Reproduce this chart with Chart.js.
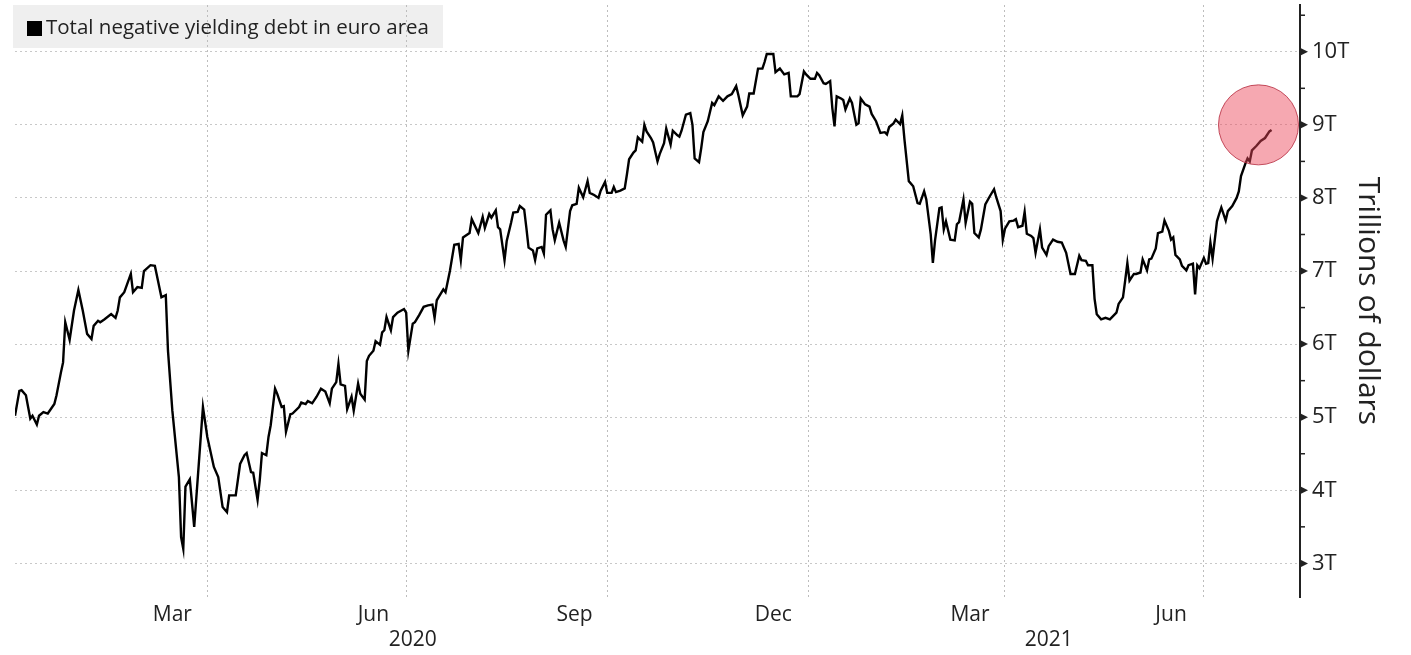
<!DOCTYPE html>
<html>
<head>
<meta charset="utf-8">
<title>Total negative yielding debt in euro area</title>
<script src="https://cdn.jsdelivr.net/npm/chart.js@4.4.1/dist/chart.umd.min.js"></script>
<style>
  html, body { margin: 0; padding: 0; background: #fff; }
  #wrap { width: 1411px; height: 655px; position: relative; }
</style>
</head>
<body>
<div id="wrap"><canvas id="chart"></canvas></div>
<script>
// negative yielding debt, euro area
// x is days counted from 1 Jan 2020, values in trillions of dollars

const days = [
  2, 4, 5, 7, 8, 9, 10, 12, 13, 15,
  17, 20, 21, 23, 24, 25, 27, 29, 31, 33,
  35, 37, 38, 40, 41, 43, 46, 48, 49, 50,
  52, 55, 56, 58, 60, 61, 64, 66, 67, 69,
  71, 72, 74, 77, 78, 79, 80, 82, 84, 86,
  88, 90, 93, 95, 97, 99, 100, 103, 105, 107,
  108, 110, 111, 113, 114, 115, 117, 118, 119, 121,
  122, 124, 125, 126, 128, 129, 132, 133, 135, 136,
  138, 140, 142, 144, 146, 147, 149, 150, 151, 153,
  154, 156, 157, 159, 160, 162, 163, 164, 166, 167,
  169, 170, 171, 172, 174, 175, 177, 180, 181, 182,
  184, 185, 187, 189, 191, 193, 194, 195, 196, 198,
  199, 201, 203, 205, 206, 207, 210, 211, 214, 216,
  217, 219, 220, 222, 223, 224, 226, 227, 229, 230,
  232, 233, 235, 236, 237, 239, 240, 241, 243, 244,
  245, 247, 248, 249, 251, 253, 254, 256, 257, 259,
  260, 262, 264, 265, 267, 269, 270, 272, 273, 275,
  276, 277, 279, 281, 282, 283, 285, 286, 287, 289,
  290, 291, 293, 294, 296, 297, 299, 300, 302, 303,
  305, 306, 307, 309, 311, 312, 313, 315, 316, 317,
  319, 321, 322, 324, 326, 328, 330, 332, 333, 335,
  337, 338, 340, 342, 344, 345, 346, 349, 350, 352,
  354, 356, 357, 360, 361, 363, 364, 366, 368, 369,
  370, 372, 373, 375, 376, 377, 378, 380, 381, 382,
  384, 385, 387, 388, 389, 391, 393, 394, 396, 398,
  400, 401, 402, 404, 405, 407, 408, 409, 411, 413,
  415, 416, 418, 419, 421, 422, 423, 425, 426, 427,
  428, 430, 432, 433, 434, 436, 437, 439, 440, 441,
  443, 444, 446, 448, 450, 451, 453, 454, 455, 457,
  459, 460, 461, 463, 464, 465, 467, 468, 469, 471,
  472, 474, 475, 477, 479, 481, 483, 485, 487, 489,
  490, 492, 493, 495, 496, 497, 499, 501, 503, 504,
  506, 507, 509, 510, 511, 512, 514, 515, 517, 518,
  520, 521, 522, 524, 525, 527, 528, 530, 531, 532,
  533, 535, 536, 538, 539, 541, 542, 543, 544, 546,
  547, 548, 549, 550, 552, 553, 554, 556, 557, 559,
  561, 562, 563, 565, 566, 567, 568, 570, 572, 574,
  576, 577
];

const debt = [
  5.02, 5.36, 5.37, 5.30, 5.14, 4.98, 5.02, 4.90, 5.02, 5.07,
  5.05, 5.18, 5.30, 5.61, 5.75, 6.30, 6.06, 6.46, 6.74, 6.46,
  6.14, 6.07, 6.25, 6.32, 6.30, 6.34, 6.41, 6.36, 6.46, 6.64,
  6.71, 6.96, 6.71, 6.78, 6.77, 7.00, 7.08, 7.07, 6.93, 6.64,
  6.67, 5.91, 5.09, 4.18, 3.36, 3.20, 4.05, 4.15, 3.50, 4.32,
  5.14, 4.73, 4.32, 4.18, 3.77, 3.70, 3.93, 3.93, 4.36, 4.48,
  4.51, 4.25, 4.24, 3.87, 4.14, 4.51, 4.48, 4.73, 4.89, 5.39,
  5.32, 5.14, 5.15, 4.80, 5.04, 5.05, 5.14, 5.20, 5.18, 5.22,
  5.19, 5.28, 5.39, 5.35, 5.19, 5.39, 5.48, 5.73, 5.45, 5.43,
  5.11, 5.28, 5.09, 5.46, 5.32, 5.24, 5.77, 5.84, 5.91, 6.04,
  5.99, 6.16, 6.19, 6.37, 6.19, 6.37, 6.43, 6.48, 6.43, 5.91,
  6.28, 6.30, 6.40, 6.51, 6.53, 6.54, 6.36, 6.60, 6.65, 6.75,
  6.71, 7.00, 7.36, 7.37, 7.15, 7.46, 7.52, 7.71, 7.52, 7.74,
  7.59, 7.78, 7.73, 7.83, 7.60, 7.57, 7.15, 7.41, 7.66, 7.80,
  7.81, 7.89, 7.84, 7.59, 7.32, 7.28, 7.15, 7.31, 7.33, 7.24,
  7.77, 7.83, 7.57, 7.42, 7.66, 7.42, 7.33, 7.82, 7.90, 7.92,
  8.14, 8.01, 8.23, 8.07, 8.04, 8.00, 8.10, 8.22, 8.07, 8.07,
  8.15, 8.08, 8.10, 8.13, 8.32, 8.53, 8.62, 8.65, 8.83, 8.77,
  9.00, 8.91, 8.82, 8.76, 8.50, 8.60, 8.75, 8.95, 8.73, 8.92,
  8.86, 8.84, 8.92, 9.14, 9.16, 9.00, 8.54, 8.49, 8.68, 8.90,
  9.05, 9.30, 9.27, 9.39, 9.33, 9.39, 9.42, 9.53, 9.41, 9.13,
  9.25, 9.43, 9.43, 9.77, 9.77, 9.86, 9.97, 9.97, 9.72, 9.77,
  9.69, 9.71, 9.39, 9.39, 9.42, 9.73, 9.69, 9.63, 9.63, 9.71,
  9.68, 9.57, 9.56, 9.60, 9.23, 8.98, 9.39, 9.36, 9.34, 9.21,
  9.36, 9.30, 9.00, 9.02, 9.36, 9.28, 9.25, 9.15, 9.05, 8.89,
  8.90, 8.87, 8.97, 9.02, 9.07, 9.01, 9.13, 8.80, 8.23, 8.16,
  7.93, 7.92, 8.09, 7.98, 7.51, 7.11, 7.42, 7.86, 7.87, 7.57,
  7.68, 7.43, 7.42, 7.64, 7.67, 7.98, 7.66, 7.95, 7.92, 7.52,
  7.46, 7.57, 7.91, 8.02, 8.12, 8.01, 7.82, 7.43, 7.58, 7.68,
  7.69, 7.71, 7.60, 7.62, 7.81, 7.51, 7.48, 7.45, 7.25, 7.57,
  7.32, 7.22, 7.34, 7.43, 7.40, 7.39, 7.25, 6.96, 6.96, 7.21,
  7.15, 7.14, 7.08, 7.08, 6.62, 6.41, 6.34, 6.36, 6.34, 6.37,
  6.43, 6.55, 6.64, 6.87, 7.11, 6.87, 6.96, 6.96, 6.98, 7.16,
  7.01, 7.16, 7.17, 7.31, 7.52, 7.54, 7.69, 7.55, 7.43, 7.46,
  7.22, 7.16, 7.07, 7.01, 7.08, 7.10, 6.68, 7.08, 7.04, 7.18,
  7.10, 7.11, 7.39, 7.17, 7.68, 7.78, 7.87, 7.69, 7.82, 7.89,
  8.00, 8.09, 8.30, 8.47, 8.54, 8.50, 8.65, 8.71, 8.78, 8.82,
  8.91, 8.93
];

// x axis: gridlines on quarter ends, month names mid-month, years below
const quarterEndDays = [90, 181, 273, 365, 455, 546];
const monthTickDays = [74, 166, 258, 349, 439, 531];
const monthTickLabels = ["Mar", "Jun", "Sep", "Dec", "Mar", "Jun"];
const yearTickDays = [184, 475];
const yearTickLabels = ["2020", "2021"];

// y axis, whole trillions get a label, halves just a small mark
const yTickValues = [3, 3.5, 4, 4.5, 5, 5.5, 6, 6.5, 7, 7.5, 8, 8.5, 9, 9.5, 10, 10.5];

// the red circle on the latest readings
const circleDay = [571];
const circleValue = [9.0];

const seriesLabel = "Total negative yielding debt in euro area";
const yTitle = "Trillions of dollars";

Chart.defaults.font.family = "'Open Sans', sans-serif";
Chart.defaults.color = "#222";

// grey legend box in the top left corner
const legendBox = {
  id: "legendBox",
  beforeDraw(chart) {
    const ctx = chart.ctx;
    const area = chart.chartArea;
    ctx.save();
    ctx.font = "20.5px 'Open Sans'";
    const tw = ctx.measureText(seriesLabel).width;
    const x0 = area.left - 2;
    const y0 = area.top;
    ctx.fillStyle = "#efefef";
    ctx.fillRect(x0, y0, tw + 47, 43);
    ctx.fillStyle = "#000";
    ctx.fillRect(x0 + 14, y0 + 16, 15, 15);
    ctx.fillStyle = "#222";
    ctx.textBaseline = "middle";
    ctx.fillText(seriesLabel, x0 + 33, y0 + 23);
    ctx.restore();
  }
};

// little arrow ticks on the right axis
const yTickMarks = {
  id: "yTickMarks",
  afterDraw(chart) {
    const ys = chart.scales.y;
    const ctx = chart.ctx;
    const x = chart.chartArea.right;
    ctx.save();
    ctx.fillStyle = "#222";
    ctx.strokeStyle = "#222";
    ctx.lineWidth = 1.5;
    for (const t of ys.ticks) {
      const py = ys.getPixelForValue(t.value);
      if (Number.isInteger(t.value)) {
        ctx.beginPath();
        ctx.moveTo(x, py - 4);
        ctx.lineTo(x + 8, py);
        ctx.lineTo(x, py + 4);
        ctx.closePath();
        ctx.fill();
      } else {
        ctx.beginPath();
        ctx.moveTo(x, py);
        ctx.lineTo(x + 5, py);
        ctx.stroke();
      }
    }
    ctx.restore();
  }
};

function xLabel(v) {
  let i = monthTickDays.indexOf(v);
  if (i >= 0) return monthTickLabels[i];
  i = yearTickDays.indexOf(v);
  if (i >= 0) return ["", yearTickLabels[i]];
  return "";
}

// stop the scales from reserving room for half labels at the edges
function noEdgePadding(scale) {
  scale.paddingTop = 0;
  scale.paddingBottom = 0;
  scale.paddingLeft = 0;
  scale.paddingRight = 0;
}

const config = {
  type: "line",
  data: {
    datasets: [
      {
        type: "scatter",
        label: "highlight",
        data: circleDay.map((d, i) => ({ x: d, y: circleValue[i] })),
        pointRadius: 40,
        pointHoverRadius: 40,
        pointBackgroundColor: "rgba(235, 70, 90, 0.47)",
        pointBorderColor: "rgba(180, 40, 60, 0.8)",
        pointBorderWidth: 1,
        clip: false,
        order: 0
      },
      {
        label: seriesLabel,
        data: days.map((d, i) => ({ x: d, y: debt[i] })),
        borderColor: "#000",
        borderWidth: 2.4,
        pointRadius: 0,
        tension: 0,
        fill: false,
        order: 1
      }
    ]
  },
  options: {
    responsive: true,
    maintainAspectRatio: false,
    animation: false,
    events: [],
    layout: { autoPadding: false, padding: { left: 15, top: 5, right: 21, bottom: 0 } },
    plugins: {
      legend: { display: false },
      tooltip: { enabled: false }
    },
    scales: {
      x: {
        type: "linear",
        min: 2,
        max: 590,
        bounds: "data",
        afterBuildTicks(scale) {
          scale.ticks = [...quarterEndDays, ...monthTickDays, ...yearTickDays]
            .sort((a, b) => a - b)
            .map(v => ({ value: v }));
        },
        afterFit(scale) {
          scale.height = 58;
          noEdgePadding(scale);
        },
        grid: {
          color: (c) => (c.tick && quarterEndDays.includes(c.tick.value)) ? "#bdbdbd" : "rgba(0,0,0,0)",
          drawTicks: false,
          lineWidth: 1
        },
        border: { display: false, dash: [2, 3] },
        ticks: {
          autoSkip: false,
          maxRotation: 0,
          minRotation: 0,
          padding: 5,
          color: "#222",
          font: { size: 21 },
          callback: xLabel
        }
      },
      y: {
        type: "linear",
        position: "right",
        min: 2.54,
        max: 10.64,
        bounds: "data",
        afterBuildTicks(scale) {
          scale.ticks = yTickValues.map(v => ({ value: v }));
        },
        afterFit(scale) {
          scale.width = 90;
          noEdgePadding(scale);
        },
        grid: {
          color: (c) => (c.tick && Number.isInteger(c.tick.value)) ? "#c8c8c8" : "rgba(0,0,0,0)",
          drawTicks: false,
          lineWidth: 1
        },
        border: { display: true, color: "#222", width: 2, dash: [2, 3] },
        ticks: {
          autoSkip: false,
          padding: 12,
          color: "#222",
          font: { size: 22 },
          callback: (v) => Number.isInteger(v) ? v + "T" : ""
        },
        title: {
          display: true,
          text: yTitle,
          color: "#222",
          font: { size: 30 },
          padding: { top: 4, bottom: 0 }
        }
      }
    }
  },
  plugins: [legendBox, yTickMarks]
};

const chart = new Chart(document.getElementById("chart").getContext("2d"), config);
</script>
</body>
</html>
